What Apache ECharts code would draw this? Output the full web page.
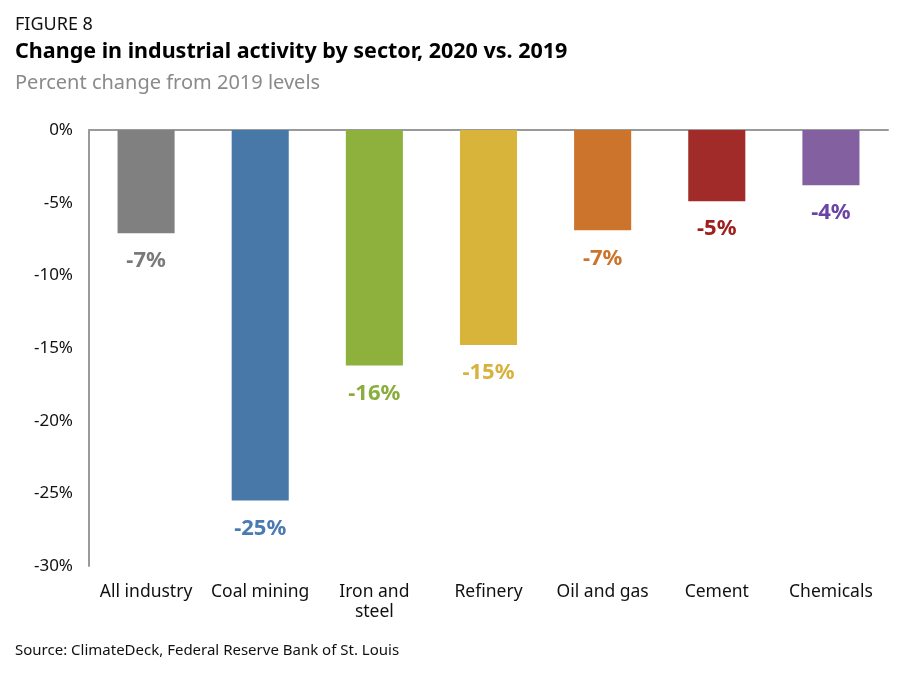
<!DOCTYPE html>
<html><head><meta charset="utf-8">
<script src="https://cdn.jsdelivr.net/npm/echarts@6/dist/echarts.min.js"></script>
<style>html,body{margin:0;padding:0;background:#fff}#c{width:914px;height:676px}</style>
</head><body><div id="c"></div>
<script>
const categories = ['All industry', 'Coal mining', 'Iron and\nsteel', 'Refinery', 'Oil and gas', 'Cement', 'Chemicals'];
const values = [-7.1, -25.5, -16.2, -14.8, -6.9, -4.9, -3.8];
const labels = ['-7%', '-25%', '-16%', '-15%', '-7%', '-5%', '-4%'];
const barColors = ['#808080', '#4878A8', '#8DB13C', '#D8B43A', '#CC742C', '#A02B29', '#8360A0'];
const labelColors = ['#7a7a7a', '#4a7ab2', '#8aae3c', '#d8b23c', '#cc742c', '#a01e1e', '#6b44a6'];
const yTicks = [0, -5, -10, -15, -20, -25, -30];

const FONT = '"Noto Sans", sans-serif';
const chart = echarts.init(document.getElementById('c'), null, {renderer: 'canvas'});
chart.setOption({
  animation: false,
  backgroundColor: '#fff',
  textStyle: {fontFamily: FONT},
  title: [
    {text: 'FIGURE 8', left: 15, top: 16, padding: 0, textStyle: {fontFamily: FONT, fontSize: 18, fontWeight: 'normal', color: '#111'}},
    {text: 'Change in industrial activity by sector, 2020 vs. 2019', left: 15, top: 41, padding: 0, textStyle: {fontFamily: FONT, fontSize: 21.5, fontWeight: 'bold', color: '#000'}},
    {text: 'Percent change from 2019 levels', left: 15, top: 73, padding: 0, textStyle: {fontFamily: FONT, fontSize: 20, fontWeight: 'normal', color: '#8a8a8a'}},
    {text: 'Source: ClimateDeck, Federal Reserve Bank of St. Louis', left: 15, top: 643, padding: 0, textStyle: {fontFamily: FONT, fontSize: 15, fontWeight: 'normal', color: '#111'}}
  ],
  grid: {left: 89, right: 26, top: 130, bottom: 110, containLabel: false},
  xAxis: [
    {type: 'category', data: categories, position: 'bottom',
     axisLine: {show: false}, axisTick: {show: false},
     axisLabel: {interval: 0, fontFamily: FONT, fontSize: 17.5, color: '#111', margin: 16, lineHeight: 20}},
    {type: 'category', data: categories, position: 'top',
     axisLine: {show: true, lineStyle: {color: '#9a9a9a', width: 2}}, axisTick: {show: false},
     axisLabel: {show: false}}
  ],
  yAxis: {
    type: 'value', min: -30, max: 0, interval: 5,
    axisLine: {show: true, lineStyle: {color: '#9a9a9a', width: 2}},
    axisTick: {show: false}, splitLine: {show: false},
    axisLabel: {fontFamily: FONT, fontSize: 17, color: '#111', margin: 16,
      formatter: v => yTicks.includes(v) ? v + '%' : ''}
  },
  series: [{
    type: 'bar', xAxisIndex: 0, barWidth: '50%',
    data: values.map((v, i) => ({value: v, itemStyle: {color: barColors[i]},
      label: {color: labelColors[i]}})),
    label: {show: true, position: 'bottom', distance: 17, fontFamily: FONT, fontSize: 22, fontWeight: 'bold',
      formatter: p => labels[p.dataIndex]}
  }]
});
</script></body></html>
